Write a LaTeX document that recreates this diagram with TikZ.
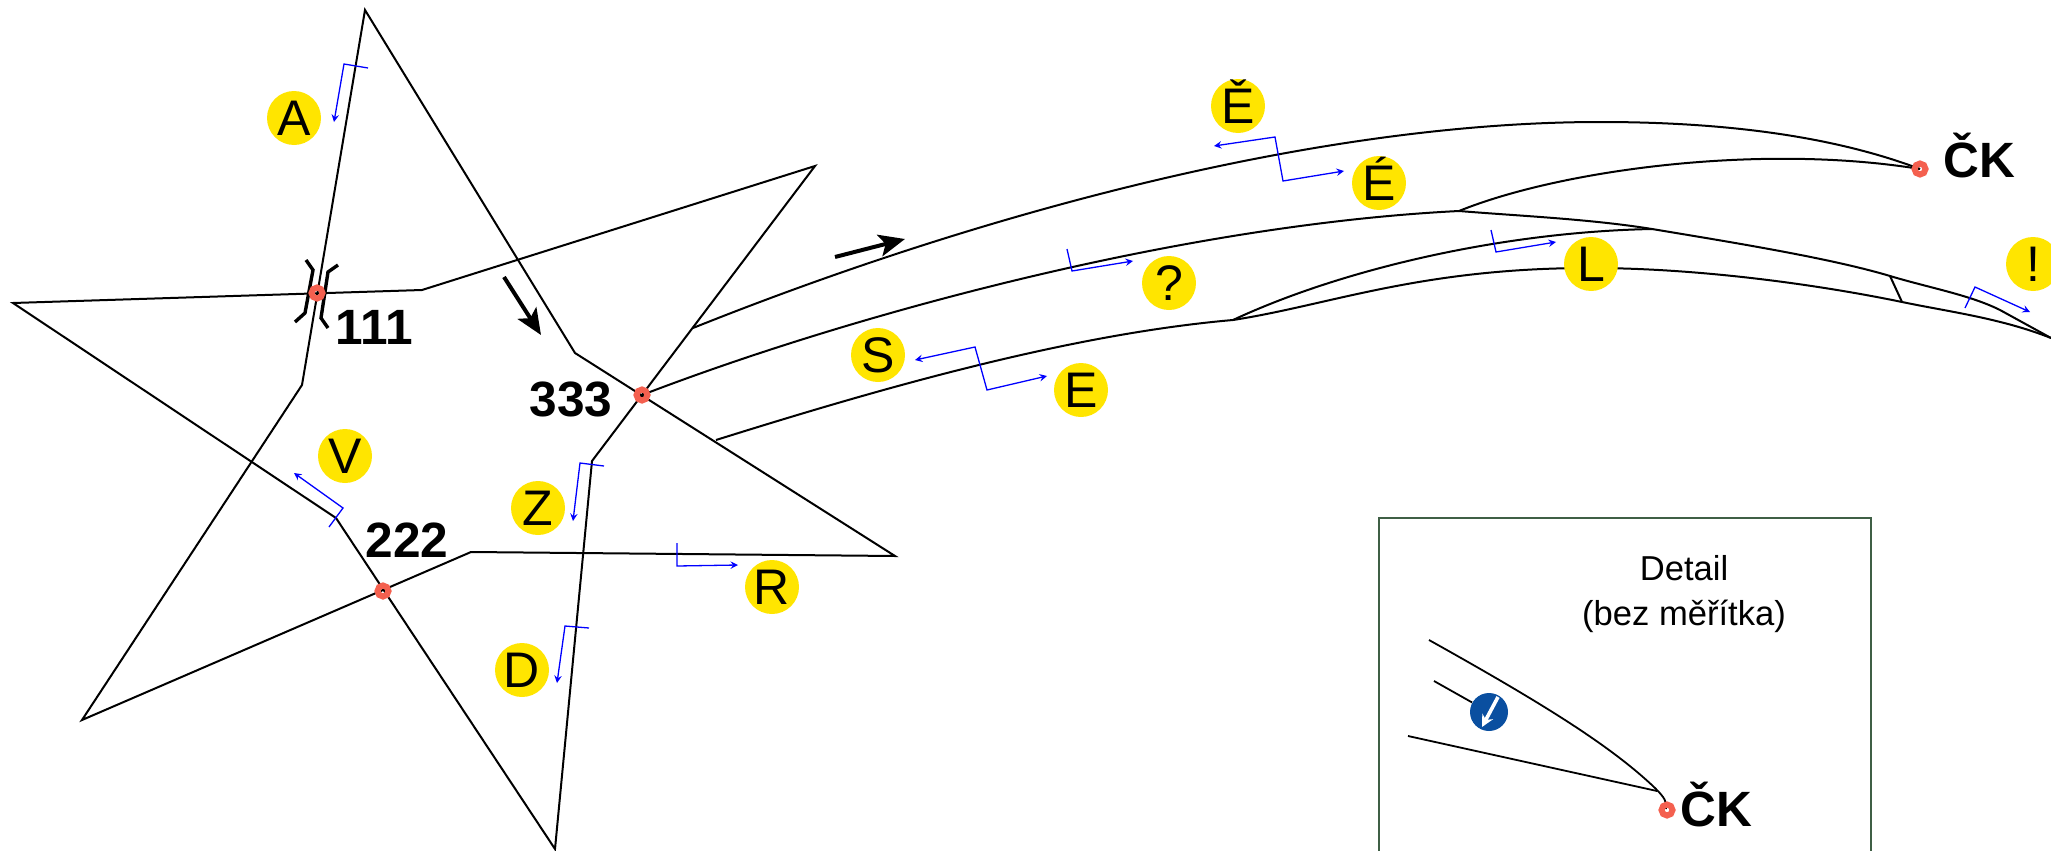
\documentclass[tikz,border=0pt]{standalone}
\usepackage{fontspec}
\setmainfont{Liberation Sans}
\usetikzlibrary{arrows.meta}
\definecolor{spotred}{HTML}{F4604F}
\definecolor{tagyellow}{HTML}{FFE500}
\definecolor{boxgreen}{HTML}{3F5F45}
\definecolor{signblue}{HTML}{0A4FA0}

\begin{document}
\begin{tikzpicture}[x=0.5pt, y=-0.5pt, >=stealth,
    road/.style={draw, line width=1pt, line join=miter},
    cut/.style={draw=blue, line width=0.65pt},
    tag/.style={circle, fill=tagyellow, minimum size=27pt, inner sep=0pt,
        text height=17.8pt, text depth=0pt, font=\fontsize{25}{25}\selectfont},
    spot/.style={circle, draw=spotred, line width=3pt, minimum size=5.5pt, inner sep=0pt},
    big/.style={inner sep=0pt, font=\bfseries\fontsize{24.8}{24.8}\selectfont},
    flow/.style={line width=2pt, -{Stealth[length=13pt,width=11pt,inset=3pt]}}]
    \useasboundingbox (0,0) rectangle (2051,851);

    \coordinate (CK) at (1920,169);
    \coordinate (J1) at (1459,211);
    \coordinate (J2) at (1233,320);
    \coordinate (J3) at (1652,229);
    \coordinate (T) at (2051,338);

    \draw[road] (13,303) -- (422,290) -- (815,166) -- (592,461) -- (555,849) -- (336,518) -- cycle;
    \draw[road] (365,10) -- (575,353) -- (895,556) -- (471,552) -- (82,720) -- (302,385) -- cycle;

    \draw[road] (693,328) .. controls (950,225) and (1300,122) .. (1600,122) .. controls (1720,122) and (1830,135) .. (CK);
    \draw[road] (642,395) .. controls (850,315) and (1180,225) .. (J1);
    \draw[road] (J1) .. controls (1560,170) and (1760,143) .. (CK);
    \draw[road] (J1) .. controls (1520,216) and (1590,219) .. (J3) .. controls (1730,242) and (1830,258) .. (1890,276) .. controls (1930,288) and (1970,295) .. (2000,310) -- (T);
    \draw[road] (716,440) .. controls (860,395) and (1060,335) .. (J2);
    \draw[road] (J2) .. controls (1340,270) and (1500,232) .. (J3);
    \draw[road] (J2) .. controls (1330,305) and (1420,268) .. (1590,268) .. controls (1700,268) and (1820,285) .. (1902,302) .. controls (1950,312) and (2000,318) .. (T);
    \draw[road] (1890,276) -- (1902,302);

    \draw[road, line width=1.7pt] (306,260) -- (313,270) -- (305,313) -- (295,322);
    \draw[road, line width=1.7pt] (338,265) -- (328,272) -- (321,318) -- (328,328);

    \draw[flow] (504,277) -- (541,335);
    \draw[flow] (835,257) -- (905,239);

    \draw[cut,->] (368,68) -- (344,64) -- (334,122);
    \draw[cut,->] (329,527) -- (343,508) -- (294,473);
    \draw[cut,->] (604,466) -- (580,463) -- (573,521);
    \draw[cut,->] (589,628) -- (565,626) -- (557,683);
    \draw[cut,->] (677,543) -- (677,566) -- (738,565);
    \draw[cut,<->] (1214,146) -- (1275,137) -- (1283,181) -- (1344,171);
    \draw[cut,->] (1067,249) -- (1072,271) -- (1133,261);
    \draw[cut,<->] (915,360) -- (975,347) -- (987,390) -- (1047,376);
    \draw[cut,->] (1491,230) -- (1496,252) -- (1556,242);
    \draw[cut,->] (1965,308) -- (1975,287) -- (2030,312);

    \node[tag] (A) at (294,118) {A};
    \node[tag] (V) at (345,456) {V};
    \node[tag] (Z) at (538,508) {Z};
    \node[tag] (D) at (522,670) {D};
    \node[tag] (R) at (772,587) {R};
    \node[tag] (Ecar) at (1238,106) {Ě};
    \node[tag] (Eacu) at (1379,183) {É};
    \node[tag] (Q) at (1169,283) {?};
    \node[tag] (S) at (878,355) {S};
    \node[tag] (E) at (1081,390) {E};
    \node[tag] (L) at (1591,264) {L};
    \node[tag] (X) at (2033,264) {!};

    \node[spot] (P1) at (317,293) {};
    \node[spot] (P2) at (383,591) {};
    \node[spot] (P3) at (642,395) {};
    \node[spot] (P4) at (CK) {};
    \node[big] (L1) at (374,327) {111};
    \node[big] (L2) at (407,540) {222};
    \node[big] (L3) at (571,399) {333};
    \node[big, anchor=base] (L4) at (1979,177) {ČK};

    \draw[draw=boxgreen, line width=0.75pt] (1379,851) -- (1379,518) -- (1871,518) -- (1871,851);
    \node[align=center, inner sep=0pt, font=\fontsize{17.3}{22.5}\selectfont] (title) at (1684,594) {Detail\\(bez měřítka)};
    \draw[road, line width=0.9pt] (1429,640) .. controls (1540,702) and (1610,745) .. (1655,788) .. controls (1665,798) and (1667,802) .. (1666,809);
    \draw[road, line width=0.9pt] (1408,736) -- (1657,791);
    \node[circle, fill=signblue, minimum size=19pt, inner sep=0pt] (sign) at (1489,712) {};
    \draw[road, line width=0.9pt] (1434,681) -- (sign);
    \draw[white, line width=1.8pt, -{Stealth[length=6pt,width=6pt]}] (1498,697) -- (1482,727);
    \node[spot] (P5) at (1667,810) {};
    \node[big, anchor=base] (L5) at (1716,826) {ČK};
\end{tikzpicture}
\end{document}
